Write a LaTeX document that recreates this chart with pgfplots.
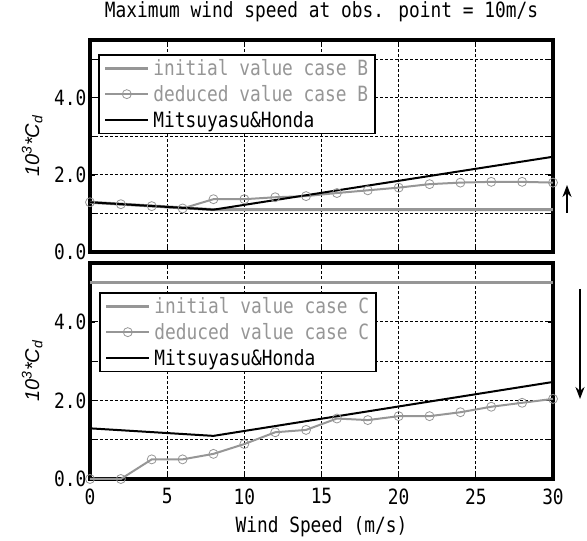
\documentclass[border=0pt]{standalone}
\usepackage{pgfplots}
\pgfplotsset{compat=1.18}
\usepackage{fontspec}
\setmainfont{DejaVu Sans Mono}
\newfontfamily\gothic[FakeStretch=0.85]{DejaVu Sans Mono}
\newfontfamily\arialfont{Liberation Sans}
\usetikzlibrary{arrows.meta}
\definecolor{lgray}{RGB}{150,150,150}
\newcommand\gf{\gothic\fontsize{21}{25}\selectfont}

\pgfplotstableread{
x y
0 1.29
8 1.098
30 1.098
}\initB
\pgfplotstableread{
x y
0 1.29
2 1.24
4 1.19
6 1.13
8 1.37
10 1.37
12 1.42
14 1.45
16 1.53
18 1.60
20 1.67
22 1.76
24 1.80
26 1.82
28 1.82
30 1.80
}\dedB
\pgfplotstableread{
x y
0 1.29
8 1.098
30 2.471
}\mh
\pgfplotstableread{
x y
0 5.0
30 5.0
}\initC
\pgfplotstableread{
x y
0 0.0
2 0.0
4 0.50
6 0.50
8 0.64
10 0.89
12 1.19
14 1.25
16 1.54
18 1.50
20 1.60
22 1.60
24 1.70
26 1.84
28 1.94
30 2.04
}\dedC

\pgfplotsset{
  myaxis/.style={
    scale only axis, width=463pt,
    xmin=0, xmax=30, ymin=0, ymax=5.5,
    xtick={0,5,...,30}, ytick={0,1,2,3,4,5},
    yticklabels={0.0,,2.0,,4.0,},
    grid=major, grid style={black, line width=0.9pt, dash pattern=on 3pt off 2pt},
    axis line style={line width=3.8pt},
    tick style={black, line width=1.2pt}, tick align=inside, major tick length=5pt,
    /pgf/number format/assume math mode=true,
    tick label style={font=\gf},
    xticklabel style={yshift=-6pt},
    clip=false,
    ylabel={\arialfont\itshape\fontsize{20}{22}\selectfont 10\textsuperscript{3}*C\textsubscript{d}},
    ylabel style={at={(axis description cs:-0.125,0.5)}, anchor=center, rotate=0},
    legend cell align=left,
  },
  initstyle/.style={lgray, line width=3pt, no markers,
    legend image code/.code={\draw[##1] (0pt,0pt) -- (43pt,0pt);}},
  dedstyle/.style={lgray, line width=2pt, mark=o, mark size=4.5pt,
    mark options={fill=white, line width=0.8pt, draw=lgray},
    legend image code/.code={\draw[##1, mark repeat=2, mark phase=2] plot coordinates {(0pt,0pt) (21.5pt,0pt) (43pt,0pt)};}},
  mhstyle/.style={black, line width=2pt, no markers,
    legend image code/.code={\draw[##1] (0pt,0pt) -- (43pt,0pt);}},
  mylegend/.style={legend style={at={(axis description cs:0,1)}, anchor=north west,
    draw=black, line width=1.6pt, fill=white, font=\gf,
    inner xsep=5pt, inner ysep=3pt, row sep=5.5pt, column sep=2pt,
    nodes={inner sep=1.5pt}}},
}

\begin{document}
\begin{tikzpicture}
\useasboundingbox (0,0) rectangle (587pt,541pt);
\begin{axis}[myaxis, at={(90pt,289pt)}, anchor=south west, height=212pt,
  xticklabels={},
  title={\gf Maximum wind speed at obs. point = 10m/s},
  title style={at={(axis description cs:0.5,1.105)}, anchor=center},
  mylegend, legend style={xshift=8pt, yshift=-14pt}]
\addplot[initstyle] table[x=x,y=y] {\initB};
\addlegendentry{\textcolor{lgray}{initial value case B}}
\addplot[dedstyle] table[x=x,y=y] {\dedB};
\addlegendentry{\textcolor{lgray}{deduced value case B}}
\addplot[mhstyle] table[x=x,y=y] {\mh};
\addlegendentry{Mitsuyasu\&Honda}
\end{axis}
\begin{axis}[myaxis, at={(90pt,62pt)}, anchor=south west, height=216pt,
  xticklabels={0,5,10,15,20,25,30},
  xlabel={\gf Wind Speed (m/s)},
  xlabel style={at={(axis description cs:0.5,-0.222)}, anchor=center},
  mylegend, legend style={xshift=9pt, yshift=-29pt}]
\addplot[initstyle] table[x=x,y=y] {\initC};
\addlegendentry{\textcolor{lgray}{initial value case C}}
\addplot[dedstyle] table[x=x,y=y] {\dedC};
\addlegendentry{\textcolor{lgray}{deduced value case C}}
\addplot[mhstyle] table[x=x,y=y] {\mh};
\addlegendentry{Mitsuyasu\&Honda}
\end{axis}
\draw[line width=2pt, -{Stealth[length=12pt,width=9pt]}] (567pt,328pt) -- (567pt,356pt);
\draw[line width=2pt, -{Stealth[length=12pt,width=9pt]}] (580pt,252pt) -- (580pt,142pt);
\end{tikzpicture}
\end{document}
